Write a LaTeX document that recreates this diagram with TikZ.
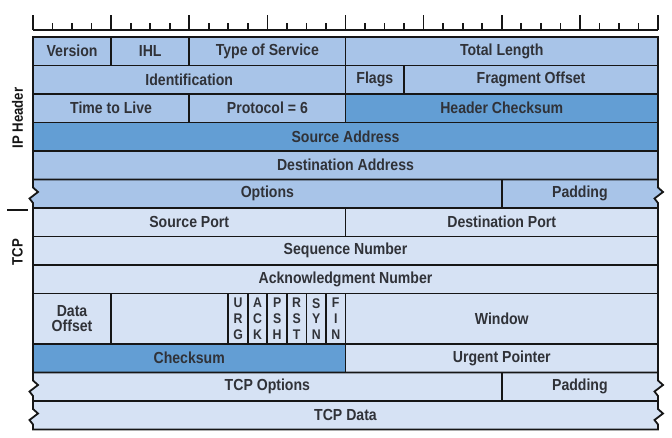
\documentclass[tikz,border=0pt]{standalone}
\usepackage{fontspec}
\setmainfont{Liberation Sans}[FakeStretch=0.88]
\definecolor{iplight}{RGB}{168,196,232}
\definecolor{ipdark}{RGB}{99,158,212}
\definecolor{tcplight}{RGB}{214,226,244}
\definecolor{txt}{RGB}{48,50,56}
\definecolor{edge}{RGB}{22,22,22}
\tikzset{
  field/.style={draw=edge, line width=1.8pt, inner sep=0pt, outer sep=0pt, text=txt, align=center,
    font=\fontsize{16}{15.5}\selectfont\bfseries},
  flagbox/.style={field, font=\fontsize{14}{15.6}\selectfont\bfseries},
  lbl/.style={inner sep=0pt, text=txt, font=\fontsize{16}{16}\selectfont\bfseries},
  side/.style={inner sep=0pt, text=edge, font=\fontsize{15}{15}\selectfont\bfseries},
  tick/.style={draw=edge, line width=1.7pt},
  rule/.style={draw=edge, line width=1.8pt},
}
% name, bit1, bit2, ytop, ybot, colour, text
\newcommand\fld[7]{\node[field, fill=#6, minimum width={((#3)-(#2))*19.53125pt},
  minimum height={((#5)-(#4))*1pt}] (#1) at ({33+((#2)+(#3))*9.765625},{((#4)+(#5))/2}) {#7};}
\newcommand\flg[4]{\node[flagbox, fill=tcplight, minimum width=19.53125pt, minimum height=50.5pt]
  (#1) at ({33+((#2)+0.5)*19.53125},318.75) {#3\\#4};}
% torn row: ytop, ybot, colour
\newcommand\zigrow[3]{\path[rule, fill=#3, line join=miter]
  (33,#1) -- (658,#1) -- (658,{#1+8}) -- (663,{#1+12.5}) -- (654.5,{#1+19}) -- (658,{#1+23.5})
  -- (658,#2) -- (33,#2) -- (33,{#1+23.5}) -- (29.5,{#1+19}) -- (38,{#1+12.5}) -- (33,{#1+8}) -- cycle;}
\begin{document}
\begin{tikzpicture}[x=1pt,y=-1pt]
\useasboundingbox (0,0) rectangle (672,438);
% ruler
\draw[tick] (33,30) -- (658,30);
\foreach \i in {0,...,32} \draw[tick] ({33+\i*19.53125},30) -- ({33+\i*19.53125},23);
\foreach \i in {0,4,...,32} \draw[tick] ({33+\i*19.53125},30) -- ({33+\i*19.53125},15);
% IP header
\fld{ver}{0}{4}{37}{65.5}{iplight}{Version}
\fld{ihl}{4}{8}{37}{65.5}{iplight}{IHL}
\fld{tos}{8}{16}{37}{65.5}{iplight}{Type of Service}
\fld{tlen}{16}{32}{37}{65.5}{iplight}{Total Length}
\fld{ident}{0}{16}{65.5}{94}{iplight}{Identification}
\fld{ipflags}{16}{19}{65.5}{94}{iplight}{Flags}
\fld{frag}{19}{32}{65.5}{94}{iplight}{Fragment Offset}
\fld{ttl}{0}{8}{94}{122.5}{iplight}{Time to Live}
\fld{proto}{8}{16}{94}{122.5}{iplight}{Protocol = 6}
\fld{hcs}{16}{32}{94}{122.5}{ipdark}{Header Checksum}
\fld{src}{0}{32}{122.5}{151}{ipdark}{Source Address}
\fld{dst}{0}{32}{151}{179.5}{iplight}{Destination Address}
\zigrow{179.5}{208}{iplight}
\draw[rule] ({33+24*19.53125},179.5) -- ({33+24*19.53125},208);
\node[lbl] (ipopt) at ({33+12*19.53125},193.75) {Options};
\node[lbl] (ippad) at ({33+28*19.53125},193.75) {Padding};
% TCP
\fld{sport}{0}{16}{208}{236.5}{tcplight}{Source Port}
\fld{dport}{16}{32}{208}{236.5}{tcplight}{Destination Port}
\fld{seq}{0}{32}{236.5}{265}{tcplight}{Sequence Number}
\fld{ack}{0}{32}{265}{293.5}{tcplight}{Acknowledgment Number}
\fld{doff}{0}{4}{293.5}{344}{tcplight}{Data\\Offset}
\fld{resv}{4}{10}{293.5}{344}{tcplight}{}
\flg{urg}{10}{U\\R}{G}
\flg{ackf}{11}{A\\C}{K}
\flg{psh}{12}{P\\S}{H}
\flg{rst}{13}{R\\S}{T}
\flg{syn}{14}{S\\Y}{N}
\flg{fin}{15}{F\\I}{N}
\fld{win}{16}{32}{293.5}{344}{tcplight}{Window}
\fld{tcs}{0}{16}{344}{372.5}{ipdark}{Checksum}
\fld{urgp}{16}{32}{344}{372.5}{tcplight}{Urgent Pointer}
\zigrow{372.5}{401}{tcplight}
\draw[rule] ({33+24*19.53125},372.5) -- ({33+24*19.53125},401);
\node[lbl] (tcpopt) at ({33+12*19.53125},386.75) {TCP Options};
\node[lbl] (tcppad) at ({33+28*19.53125},386.75) {Padding};
\zigrow{401}{429.5}{tcplight}
\node[lbl] (tcpdata) at ({33+16*19.53125},415.25) {TCP Data};
% side labels
\node[side, rotate=90] (iphdr) at (17.5,118) {IP Header};
\node[side, rotate=90] (tcphdr) at (17.5,252) {TCP};
\coordinate (sepa) at (7,210);
\coordinate (sepb) at (28,210);
\draw[rule] (sepa) -- (sepb);
\end{tikzpicture}
\end{document}
